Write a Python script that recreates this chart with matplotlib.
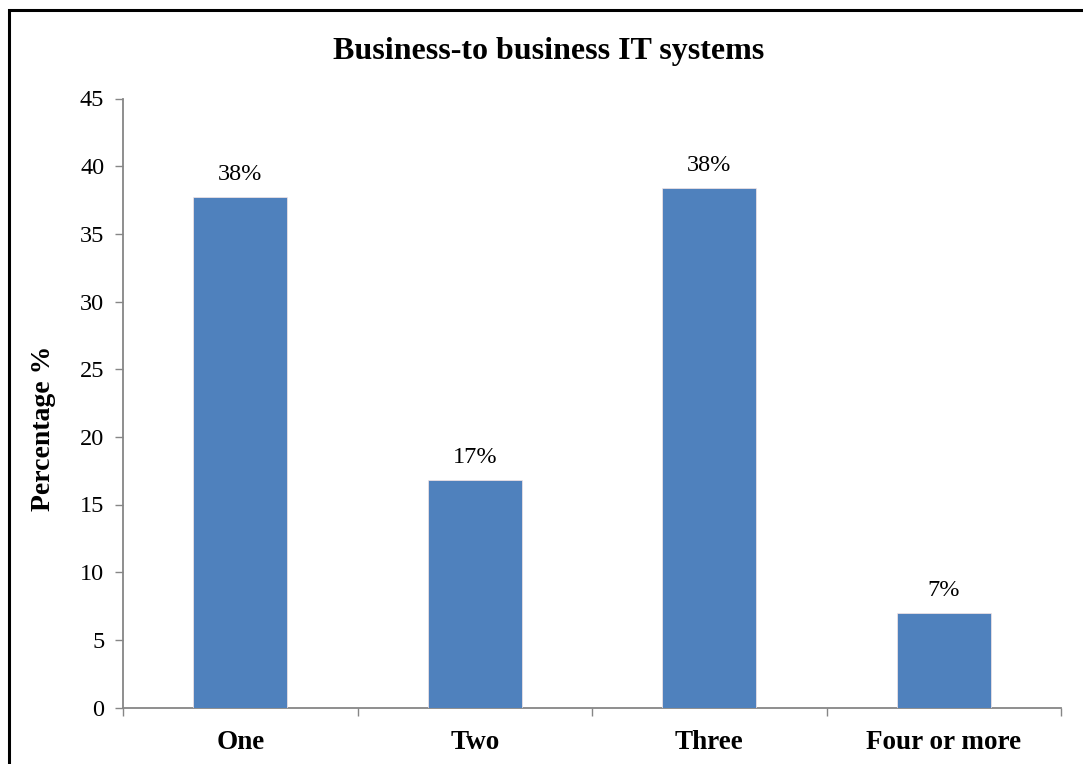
import matplotlib
matplotlib.use("Agg")
import matplotlib.pyplot as plt
from matplotlib.patches import Rectangle
import numpy as np

plt.rcParams["font.family"] = ["Liberation Serif", "DejaVu Serif"]

categories = ["One", "Two", "Three", "Four or more"]
values = [37.7, 16.8, 38.4, 7.0]
yticks = [0, 5, 10, 15, 20, 25, 30, 35, 40, 45]

BAR = "#4F81BD"
AXIS = "#868686"

fig = plt.figure(figsize=(10.83, 7.64), dpi=100)
ax = fig.add_axes([123 / 1083, 1 - 707.5 / 764, (1061 - 123) / 1083, (707.5 - 98.5) / 764])

x = np.arange(len(categories))
ax.bar(x, values, width=0.4, color=BAR, edgecolor="#F7E6E5", linewidth=0.5, zorder=3)

for xi, v in zip(x, values):
    ax.text(xi, v + 0.9, f"{v:.0f}%", ha="center", va="bottom", fontsize=17.5)

ax.set_xlim(-0.5, len(categories) - 0.5)
ax.set_ylim(0, 45)
ax.set_yticks(yticks)
ax.tick_params(axis="y", labelsize=17.5, length=6, width=1, color=AXIS, pad=7.5)

# category labels centred, tick marks on the boundaries between categories
ax.set_xticks(x)
ax.set_xticklabels(categories, fontsize=19.5, fontweight="bold")
ax.tick_params(axis="x", length=0, pad=16)
ax.set_xticks(np.arange(len(categories) + 1) - 0.5, minor=True)
ax.tick_params(axis="x", which="minor", length=6, width=1, color=AXIS)

for side in ["top", "right"]:
    ax.spines[side].set_visible(False)
for side in ["left", "bottom"]:
    ax.spines[side].set_color(AXIS)
    ax.spines[side].set_linewidth(1.3)

fig.text(549 / 1083, 1 - 51 / 764, "Business-to business IT systems",
         ha="center", va="center", fontsize=23, fontweight="bold")
fig.text(44 / 1083, 1 - 428 / 764, "Percentage %", rotation=90,
         ha="center", va="center", fontsize=20, fontweight="bold")

# outer frame
fig.add_artist(Rectangle((8.5 / 1083, -0.1), 1.2, 1.1 - 9.5 / 764,
                         transform=fig.transFigure, fill=False,
                         edgecolor="black", linewidth=2.2))

fig.savefig("out.png", dpi=100)
